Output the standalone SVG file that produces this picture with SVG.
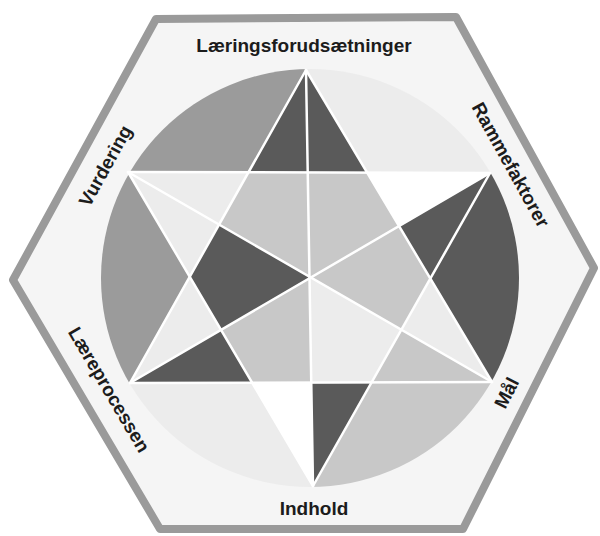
<svg xmlns="http://www.w3.org/2000/svg" width="600" height="536" viewBox="0 0 600 536">
<defs>
<style>
.lbl{font-family:"Liberation Sans",Arial,sans-serif;font-weight:bold;font-size:19px;fill:#1c1c1c;text-anchor:middle}
.dk{fill:#5a5a5a}.md{fill:#9b9b9b}.lg{fill:#c8c8c8}.vl{fill:#ececec}.wh{fill:#ffffff}
.ln{stroke:#ffffff;stroke-width:2.5;fill:none;stroke-linecap:round}
</style>
<clipPath id="circ"><circle cx="310" cy="278" r="209"/></clipPath>
</defs>
<rect width="600" height="536" fill="#ffffff"/>
<g id="hexagon">
<polygon points="156,19 456,17 594,268 463,529 160,529 13,280" fill="#f5f5f5" stroke="#9a9a9a" stroke-width="8" stroke-linejoin="round"/>
</g>
<g id="star" clip-path="url(#circ)">
<!-- caps -->
<polygon class="md" points="128,172 248.5,172.3 306,70 305.1,18.1 82.6,145.6"/>
<polygon class="vl" points="306,70 367.2,172.7 490,173 535.1,146.9 305.1,18.1"/>
<polygon class="dk" points="490,173 430.3,278.5 492,382 537.6,408.1 535.1,146.9"/>
<polygon class="lg" points="492,382 371.6,382.3 313,486 313.8,538.1 537.6,408.1"/>
<polygon class="vl" points="313,486 252.1,382.7 130,383 85.1,409.4 313.8,538.1"/>
<polygon class="md" points="130,383 189.7,276.8 128,172 82.6,145.6 85.1,409.4"/>
<!-- star points -->
<polygon class="dk" points="306,70 248.5,172.3 367.2,172.7"/>
<polygon class="wh" points="490,173 367.2,172.7 399,226.1"/>
<polygon class="dk" points="490,173 399,226.1 430.3,278.5"/>
<polygon class="vl" points="492,382 430.3,278.5 401.4,329.7"/>
<polygon class="lg" points="492,382 401.4,329.7 371.6,382.3"/>
<polygon class="dk" points="313,486 371.6,382.3 311.3,382.5"/>
<polygon class="wh" points="313,486 311.3,382.5 252.1,382.7"/>
<polygon class="dk" points="130,383 252.1,382.7 221,329.9"/>
<polygon class="vl" points="130,383 221,329.9 189.7,276.8"/>
<polygon class="vl" points="128,172 189.7,276.8 248.5,172.3"/>
<!-- inner kites -->
<polygon class="lg" points="309.7,277.5 219.1,224.6 248.5,172.3 307.7,172.3"/>
<polygon class="lg" points="309.7,277.5 307.7,172.3 367.2,172.7 399,226.1"/>
<polygon class="lg" points="309.7,277.5 399,226.1 430.3,278.5 401.4,329.7"/>
<polygon class="vl" points="309.7,277.5 401.4,329.7 371.6,382.3 311.3,382.5"/>
<polygon class="lg" points="309.7,277.5 311.3,382.5 252.1,382.7 221,329.9"/>
<polygon class="dk" points="309.7,277.5 221,329.9 189.7,276.8 219.1,224.6"/>
</g>
<g id="connectors">
<line class="ln" x1="306" y1="70" x2="130" y2="383"/>
<line class="ln" x1="306" y1="70" x2="492" y2="382"/>
<line class="ln" x1="130" y1="383" x2="492" y2="382"/>
<line class="ln" x1="128" y1="172" x2="490" y2="173"/>
<line class="ln" x1="128" y1="172" x2="313" y2="486"/>
<line class="ln" x1="490" y1="173" x2="313" y2="486"/>
<line class="ln" x1="306" y1="70" x2="313" y2="486"/>
<line class="ln" x1="128" y1="172" x2="492" y2="382"/>
<line class="ln" x1="490" y1="173" x2="130" y2="383"/>
</g>
<g id="label-laeringsforudsaetninger"><text class="lbl" x="304" y="52" font-size="19.5">Læringsforudsætninger</text></g>
<g id="label-rammefaktorer"><text class="lbl" transform="translate(505,168) rotate(61)">Rammefaktorer</text></g>
<g id="label-maal"><text class="lbl" transform="translate(512.5,396) rotate(-63)">Mål</text></g>
<g id="label-indhold"><text class="lbl" x="314" y="515">Indhold</text></g>
<g id="label-laereprocessen"><text class="lbl" transform="translate(103.5,393) rotate(59.5)">Læreprocessen</text></g>
<g id="label-vurdering"><text class="lbl" transform="translate(111,169) rotate(-61)">Vurdering</text></g>
</svg>
